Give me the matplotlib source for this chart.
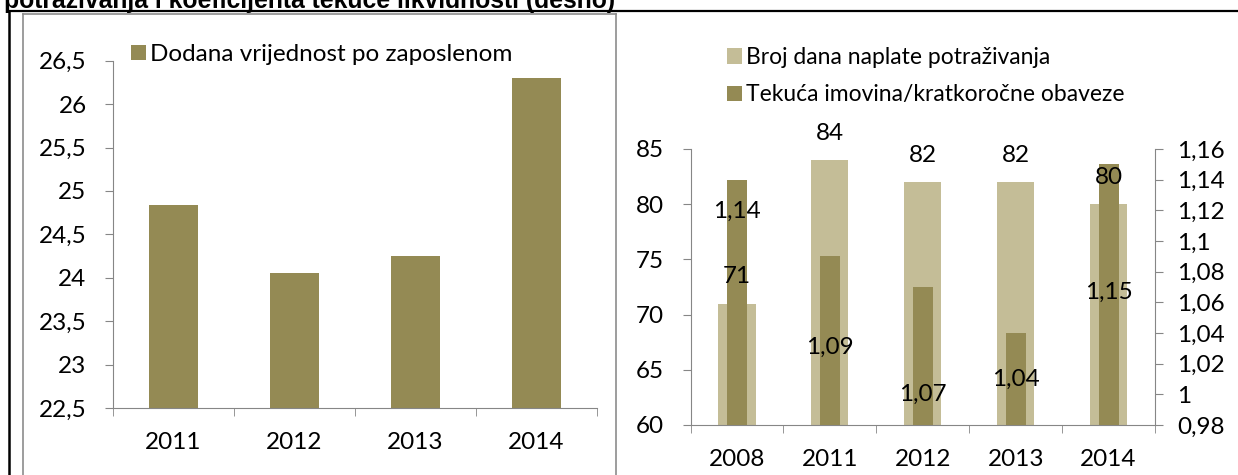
import matplotlib.pyplot as plt
from matplotlib.lines import Line2D
from matplotlib.ticker import FuncFormatter, MultipleLocator, FixedLocator

# podaci
godine_lijevo = ["2011", "2012", "2013", "2014"]
dodana_vrijednost = [24.84, 24.05, 24.25, 26.3]

godine_desno = ["2008", "2011", "2012", "2013", "2014"]
broj_dana = [71, 84, 82, 82, 80]
tekuca_imovina = [1.14, 1.09, 1.07, 1.04, 1.15]

W, H = 1238, 475
tamna = "#948A54"
svijetla = "#C4BD97"
siva = "#868686"
font = "Lato"
fs = 17.5
fs_leg = 16.5

plt.rcParams['font.family'] = [font, 'DejaVu Sans']


def zarez(v, pos=None):
    return ("%g" % round(v, 4)).replace(".", ",")


def px(x0, y0, x1, y1):
    # pikseli (od vrha) -> koordinate figure
    return [x0 / W, 1 - y1 / H, (x1 - x0) / W, (y1 - y0) / H]


fig = plt.figure(figsize=(W / 100, H / 100), dpi=100)

# okviri
fig.add_artist(Line2D([9 / W, 1], [1 - 11 / H] * 2, color="black", lw=1.6))
fig.add_artist(Line2D([9 / W] * 2, [0, 1 - 11 / H], color="black", lw=1.8))
for xs, ys in [([23, 23], [14, 480]), ([616, 616], [14, 480]), ([23, 616], [14, 14])]:
    fig.add_artist(Line2D([x / W for x in xs], [1 - y / H for y in ys], color="#8C8C8C", lw=1.2))

fig.text(4 / W, 1 - 8 / H, "potraživanja i koeficijenta tekuće likvidnosti (desno)",
         family="Liberation Sans", fontweight="bold", fontsize=17.8, va="baseline")


def uredi_os(ax, n):
    for s in ["top", "right"]:
        ax.spines[s].set_visible(False)
    for s in ["left", "bottom"]:
        ax.spines[s].set_color(siva)
    ax.set_xlim(-0.5, n - 0.5)
    ax.set_xticks(range(n))
    ax.xaxis.set_minor_locator(FixedLocator([i - 0.5 for i in range(n + 1)]))
    ax.tick_params(axis="x", which="major", length=0, pad=17, labelsize=fs)
    ax.tick_params(axis="x", which="minor", length=6, color=siva, direction="out")
    ax.tick_params(axis="y", length=6, color=siva, pad=13, labelsize=fs)
    ax.yaxis.set_major_formatter(FuncFormatter(zarez))
    ax.patch.set_alpha(0)


# lijevi graf
ax1 = fig.add_axes(px(113, 60.7, 597, 408))
x1 = range(len(godine_lijevo))
ax1.bar(x1, dodana_vrijednost, width=0.4, color=tamna, label="Dodana vrijednost po zaposlenom")
ax1.set_ylim(22.5, 26.5)
ax1.yaxis.set_major_locator(MultipleLocator(0.5))
uredi_os(ax1, len(godine_lijevo))
ax1.set_xticklabels(godine_lijevo)
ax1.legend(loc="upper left", bbox_to_anchor=(131 / W, 1 - 44 / H), bbox_transform=fig.transFigure,
           frameon=False, fontsize=fs, handlelength=0.62, handleheight=0.62,
           handletextpad=0.15, borderpad=0, borderaxespad=0)

# desni graf
ax = fig.add_axes(px(690.6, 149, 1155, 425))
x2 = range(len(godine_desno))
ax.bar(x2, broj_dana, width=0.4, color=svijetla, label="Broj dana naplate potraživanja")
ax.set_ylim(60, 85)
ax.yaxis.set_major_locator(MultipleLocator(5))
uredi_os(ax, len(godine_desno))
ax.set_xticklabels(godine_desno)

ax2 = ax.twinx()
ax2.bar(x2, tekuca_imovina, width=0.215, color=tamna, label="Tekuća imovina/kratkoročne obaveze")
ax2.set_ylim(0.98, 1.16)
ax2.yaxis.set_major_locator(MultipleLocator(0.02))
ax2.yaxis.set_major_formatter(FuncFormatter(zarez))
for s in ["top", "left", "bottom"]:
    ax2.spines[s].set_visible(False)
ax2.spines["right"].set_color(siva)
ax2.tick_params(axis="y", length=6, color=siva, pad=10, labelsize=fs)

# oznake vrijednosti
for i, v in enumerate(broj_dana):
    ax2.annotate(str(v), xy=(i, v), xycoords=ax.transData, xytext=(0, 27),
                 textcoords="offset pixels", ha="center", va="center", fontsize=fs)
pomaci = [-32, -91, -107, -46, -128]
for i, v in enumerate(tekuca_imovina):
    ax2.annotate(zarez(v), xy=(i, v), xytext=(0, pomaci[i]),
                 textcoords="offset pixels", ha="center", va="center", fontsize=fs)

h1, l1 = ax.get_legend_handles_labels()
h2, l2 = ax2.get_legend_handles_labels()
ax2.legend(h1 + h2, l1 + l2, loc="upper left", bbox_to_anchor=(727 / W, 1 - 47 / H),
           bbox_transform=fig.transFigure, frameon=False, fontsize=fs_leg,
           handlelength=0.65, handleheight=0.65, handletextpad=0.2,
           labelspacing=0.72, borderpad=0, borderaxespad=0)

fig.savefig("out.png", dpi=100)
